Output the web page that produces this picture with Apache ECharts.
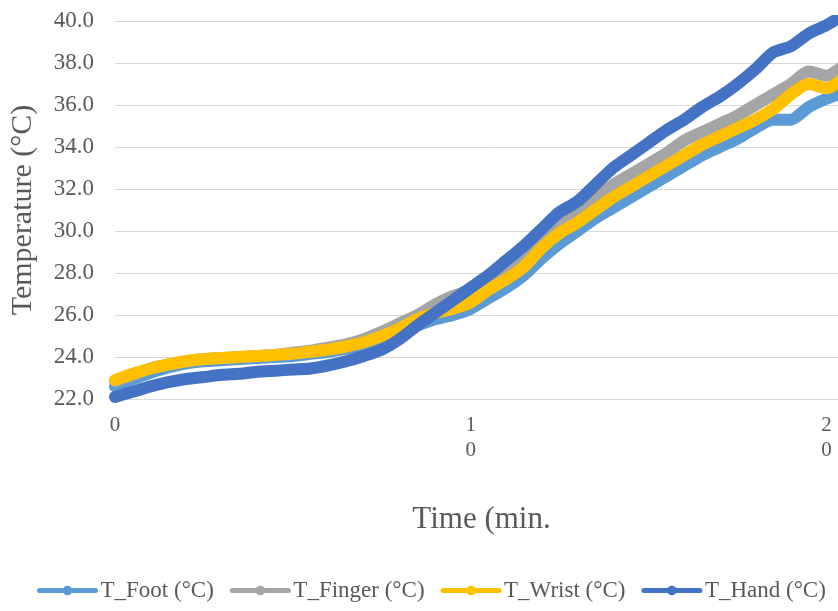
<!DOCTYPE html>
<html>
<head>
<meta charset="utf-8">
<script src="https://cdn.jsdelivr.net/npm/echarts@6/dist/echarts.min.js"></script>
<style>
  html, body { margin: 0; padding: 0; background: #fff; overflow: hidden; }
  #chart { width: 862px; height: 611px; }
</style>
</head>
<body>
<div id="chart"></div>
<script>
// Chart Data
const times = [
  0, 0.5, 1, 1.5, 2, 2.5, 3, 3.5, 4, 4.5, 5, 5.5, 6, 6.5, 7, 7.5, 8, 8.5, 9, 9.5,
  10, 10.5, 11, 11.5, 12, 12.5, 13, 13.5, 14, 14.5, 15, 15.5, 16, 16.5, 17, 17.5,
  18, 18.5, 19, 19.5, 20, 20.5,
];
const footTemps = [
  22.6, 22.95, 23.25, 23.5, 23.7, 23.8, 23.85, 23.9, 23.95, 24.0, 24.05, 24.15,
  24.25, 24.4, 24.6, 24.9, 25.2, 25.5, 25.8, 26.0, 26.3, 26.8, 27.3, 27.9, 28.7,
  29.4, 30.0, 30.6, 31.1, 31.6, 32.1, 32.6, 33.1, 33.6, 34.0, 34.4, 34.9, 35.3,
  35.3, 35.9, 36.3, 36.6,
];
const fingerTemps = [
  22.85, 23.15, 23.45, 23.65, 23.8, 23.9, 23.95, 24.0, 24.05, 24.1, 24.2, 24.3,
  24.45, 24.6, 24.85, 25.2, 25.6, 26.0, 26.5, 26.9, 27.2, 27.7, 28.3, 28.9, 29.6,
  30.4, 30.9, 31.5, 32.2, 32.7, 33.2, 33.7, 34.3, 34.7, 35.1, 35.5, 36.0, 36.5,
  37.0, 37.6, 37.4, 37.9,
];
const wristTemps = [
  22.9, 23.2, 23.45, 23.65, 23.8, 23.9, 23.95, 24.0, 24.05, 24.1, 24.15, 24.25,
  24.35, 24.5, 24.7, 25.0, 25.35, 25.8, 26.1, 26.3, 26.6, 27.2, 27.7, 28.3, 29.2,
  29.9, 30.4, 31.0, 31.6, 32.1, 32.6, 33.1, 33.6, 34.1, 34.5, 34.9, 35.3, 35.8,
  36.5, 37.0, 36.8, 37.3,
];
const handTemps = [
  22.1, 22.35, 22.6, 22.8, 22.95, 23.05, 23.15, 23.2, 23.3, 23.35, 23.4, 23.45,
  23.6, 23.8, 24.05, 24.35, 24.85, 25.5, 26.1, 26.7, 27.3, 27.9, 28.6, 29.3, 30.1,
  30.9, 31.4, 32.2, 33.0, 33.6, 34.2, 34.8, 35.3, 35.9, 36.4, 37.0, 37.7, 38.5,
  38.8, 39.4, 39.8, 40.3,
];
const seriesNames = ["T_Foot (°C)", "T_Finger (°C)", "T_Wrist (°C)", "T_Hand (°C)"];
const seriesColors = ["#5B9BD5", "#A5A5A5", "#FFC000", "#4472C4"];
const seriesValues = [footTemps, fingerTemps, wristTemps, handTemps];

// Chart Functionalities
// (the original chart is cut off on the right, so the chart box is wider than the page)
const chartElem = document.getElementById("chart");
let chart = echarts.init(chartElem, null, { renderer: "canvas" });

const fontFamily = "'Liberation Serif', 'DejaVu Serif', serif";

let option = {
  animation: false,
  textStyle: { fontFamily: fontFamily },
  legend: {
    bottom: 4,
    left: 32,
    itemWidth: 56,
    itemHeight: 12,
    itemGap: 16,
    lineStyle: { width: 5 },
    textStyle: { fontSize: 23, color: "#595959", fontFamily: fontFamily },
    data: seriesNames,
  },
  grid: {
    left: 109,
    top: 21,
    right: 0,
    bottom: 212,
    containLabel: false,
  },
  xAxis: {
    type: "value",
    min: 0,
    max: 21,
    interval: 10,
    name: "Time (min.",
    nameLocation: "middle",
    nameGap: 105,
    nameTextStyle: { fontSize: 31, color: "#595959", fontFamily: fontFamily, padding: [0, 14, 0, 0] },
    axisLine: { show: true, lineStyle: { color: "#D9D9D9", width: 1 } },
    axisTick: { show: false },
    splitLine: { show: false },
    axisLabel: {
      color: "#595959",
      fontSize: 21,
      lineHeight: 25,
      margin: 14,
      showMaxLabel: false,
      fontFamily: fontFamily,
      formatter: (v) => String(v).split("").join("\n"),
    },
  },
  yAxis: {
    type: "value",
    min: 22,
    max: 40,
    interval: 2,
    name: "Temperature (°C)",
    nameLocation: "middle",
    nameGap: 77,
    nameRotate: 90,
    nameTextStyle: { fontSize: 30, color: "#595959", fontFamily: fontFamily },
    axisLine: { show: false },
    axisTick: { show: false },
    splitLine: { show: true, lineStyle: { color: "#D9D9D9", width: 1 } },
    axisLabel: {
      color: "#595959",
      fontSize: 23,
      margin: 21,
      fontFamily: fontFamily,
      formatter: (v) => v.toFixed(1),
    },
  },
  series: seriesNames.map((name, i) => ({
    name: name,
    type: "line",
    data: times.map((t, j) => [t, seriesValues[i][j]]),
    color: seriesColors[i],
    symbol: "circle",
    symbolSize: 11,
    showSymbol: false,
    smooth: 0.25,
    lineStyle: { width: 12, color: seriesColors[i], cap: "round", join: "round" },
    itemStyle: { color: seriesColors[i] },
    emphasis: { disabled: true },
  })),
};

chart.setOption(option);
</script>
</body>
</html>
